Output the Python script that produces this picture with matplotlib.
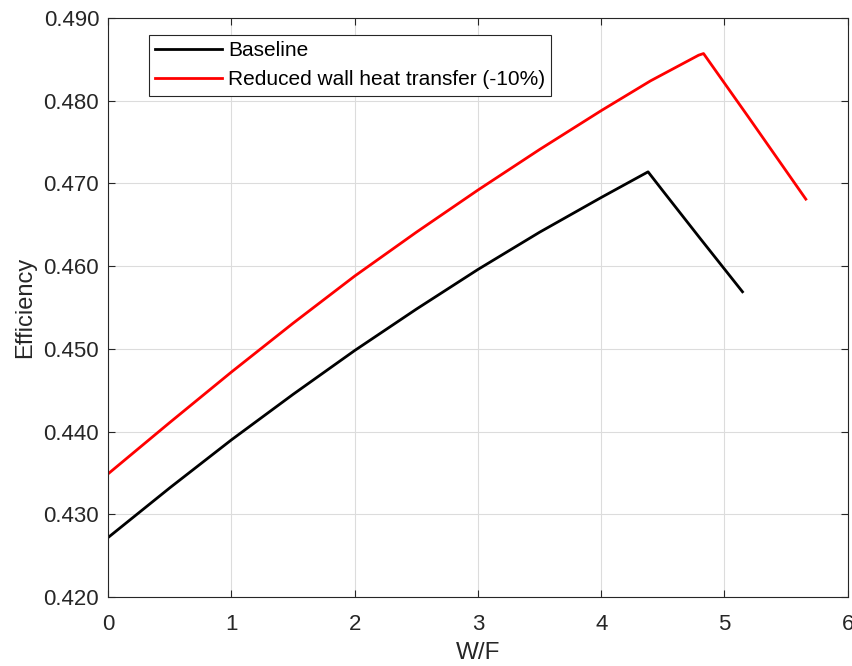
import matplotlib
matplotlib.use("Agg")
import matplotlib.pyplot as plt
import numpy as np

# Begin data
wf_base = [0.0, 0.5, 1.0, 1.5, 2.0, 2.5, 3.0, 3.5, 4.0, 4.38, 4.5, 4.8, 5.146]
eff_base = [0.4272, 0.4332, 0.4390, 0.4445, 0.4498, 0.4548, 0.4596, 0.4641,
            0.4683, 0.4714, 0.4691, 0.4634, 0.4569]

wf_red = [0.0, 0.5, 1.0, 1.5, 2.0, 2.5, 3.0, 3.5, 4.0, 4.4, 4.79, 4.83, 5.2, 5.66]
eff_red = [0.4349, 0.4411, 0.4472, 0.4531, 0.4588, 0.4641, 0.4692, 0.4741,
           0.4788, 0.4824, 0.4855, 0.4857, 0.4779, 0.4681]

labels = ['Baseline', 'Reduced wall heat transfer (-10%)']
xticks = [0, 1, 2, 3, 4, 5, 6]
yticks = [0.420, 0.430, 0.440, 0.450, 0.460, 0.470, 0.480, 0.490]
# End data

plt.rcParams['font.family'] = ['Liberation Sans', 'DejaVu Sans']
dark = '#262626'

fig = plt.figure(figsize=(8.52, 6.66), dpi=100)
ax = fig.add_axes([0.127, 0.1036, 0.868, 0.8694])
ax.plot(wf_base, eff_base, color='black', lw=2.0, label=labels[0])
ax.plot(wf_red, eff_red, color='red', lw=2.0, label=labels[1])

ax.set_xlim(0, 6)
ax.set_ylim(0.420, 0.490)
ax.set_xticks(xticks)
ax.set_yticks(yticks)
ax.set_yticklabels(['%.3f' % v for v in yticks])
ax.grid(True, color='#dcdcdc', lw=0.8)
ax.set_axisbelow(True)
ax.tick_params(direction='in', top=True, right=True, length=5, width=0.8,
               colors=dark, labelsize=16)
ax.tick_params(axis='x', pad=12)
ax.tick_params(axis='y', pad=6.5)
for s in ax.spines.values():
    s.set_color(dark)
    s.set_linewidth(0.8)

ax.set_xlabel('W/F', fontsize=17.5, color=dark, labelpad=5)
ax.set_ylabel('Efficiency', fontsize=17, color=dark, labelpad=5)

leg = ax.legend(loc='upper left', bbox_to_anchor=(0.055, 0.971), fontsize=15,
                handlelength=3.2, fancybox=False, framealpha=1,
                edgecolor=dark, borderaxespad=0, borderpad=0.3,
                handletextpad=0.3, labelspacing=0.5)
leg.get_frame().set_linewidth(0.8)

fig.savefig('out.png', dpi=100)
